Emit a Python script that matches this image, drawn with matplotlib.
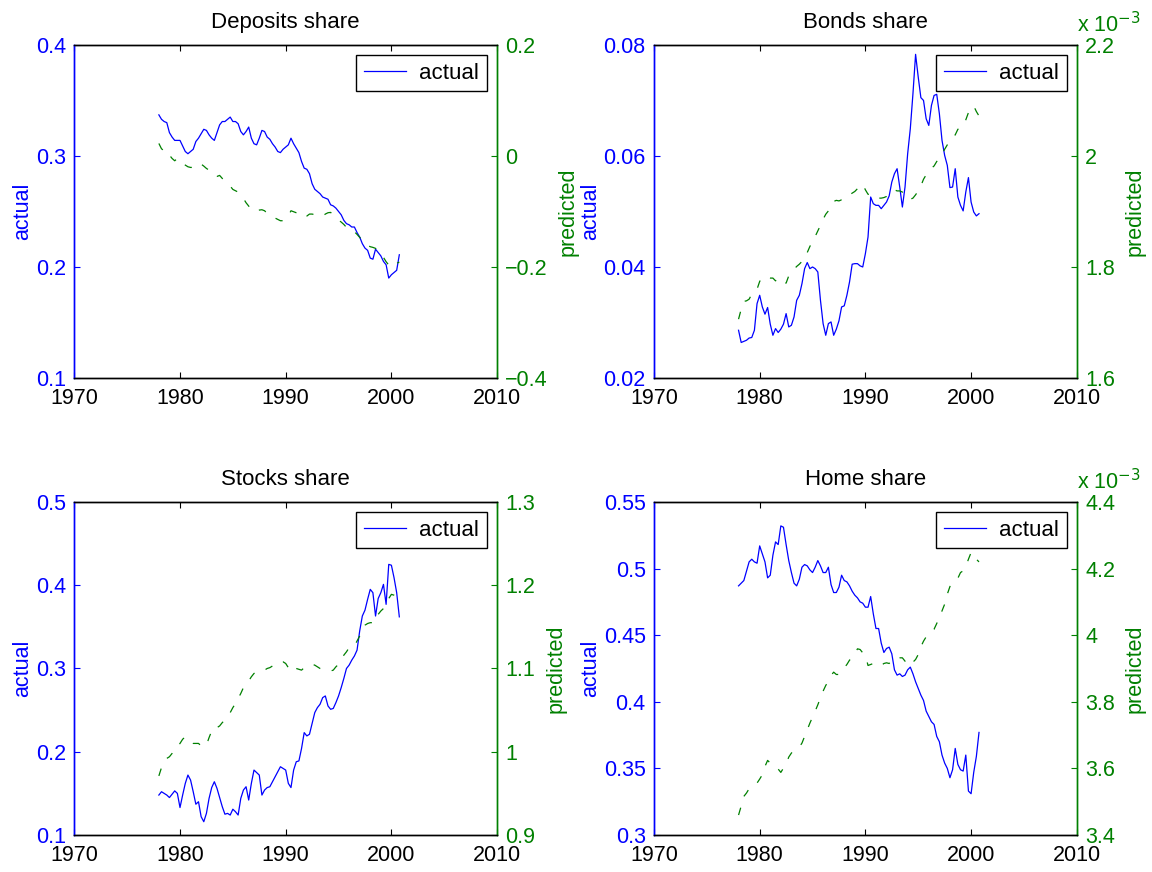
import numpy as np
import matplotlib.pyplot as plt
from matplotlib.ticker import FuncFormatter

plt.rcParams['font.family'] = ['Liberation Sans', 'DejaVu Sans']
plt.rcParams['font.size'] = 15
plt.rcParams['lines.scale_dashes'] = False

BLUE = "#0000ff"
GREEN = "#008000"

quarters = np.arange(1978, 2001, 0.25)  # 1978Q1 .. 2000Q4

deposits_actual = [
    0.337, 0.333, 0.331, 0.330, 0.321, 0.317, 0.314, 0.314, 0.314, 0.309,
    0.304, 0.302, 0.304, 0.306, 0.313, 0.316, 0.320, 0.324, 0.323, 0.319,
    0.316, 0.314, 0.321, 0.328, 0.331, 0.331, 0.333, 0.335, 0.331, 0.331,
    0.329, 0.322, 0.319, 0.322, 0.326, 0.316, 0.311, 0.310, 0.316, 0.323,
    0.322, 0.317, 0.315, 0.311, 0.308, 0.304, 0.303, 0.306, 0.308, 0.310,
    0.316, 0.311, 0.307, 0.303, 0.295, 0.289, 0.288, 0.284, 0.275, 0.270,
    0.268, 0.266, 0.263, 0.262, 0.261, 0.256, 0.255, 0.253, 0.250, 0.247,
    0.242, 0.239, 0.238, 0.236, 0.236, 0.231, 0.227, 0.221, 0.217, 0.215,
    0.208, 0.207, 0.216, 0.213, 0.210, 0.205, 0.202, 0.190, 0.193, 0.195,
    0.197, 0.211]
deposits_pred = [
    0.0225, 0.0129, 0.0093, 0.0105, 0.0015, -0.0045, -0.0087, -0.0045, -0.0075, -0.0135,
    -0.0165, -0.0195, -0.0207, -0.0207, -0.0165, -0.0177, -0.0147, -0.0183, -0.0225, -0.0255,
    -0.0315, -0.0363, -0.0369, -0.0351, -0.0405, -0.0447, -0.0495, -0.0543, -0.0603, -0.0627,
    -0.0651, -0.0705, -0.0765, -0.0843, -0.0903, -0.0975, -0.0993, -0.0987, -0.0975, -0.0969,
    -0.0987, -0.1035, -0.1053, -0.1095, -0.1119, -0.1143, -0.1167, -0.1167, -0.1143, -0.1083,
    -0.0987, -0.1005, -0.1023, -0.1035, -0.1035, -0.1095, -0.1083, -0.1047, -0.1047, -0.1059,
    -0.1071, -0.1083, -0.1083, -0.1047, -0.1023, -0.1017, -0.1065, -0.1107, -0.1155, -0.1191,
    -0.1233, -0.1287, -0.1311, -0.1329, -0.1365, -0.1413, -0.1467, -0.1515, -0.1563, -0.1611,
    -0.1635, -0.1647, -0.1665, -0.1743, -0.1791, -0.1827, -0.1905, -0.1965, -0.2007, -0.1977,
    -0.1935, -0.1911]

bonds_actual = [
    0.0286, 0.0264, 0.0266, 0.0268, 0.0272, 0.0273, 0.0286, 0.0334, 0.0349, 0.0328,
    0.0315, 0.0327, 0.0297, 0.0277, 0.0289, 0.0282, 0.0288, 0.0297, 0.0316, 0.0292,
    0.0295, 0.0310, 0.0340, 0.0349, 0.0370, 0.0397, 0.0408, 0.0397, 0.0400, 0.0397,
    0.0391, 0.0340, 0.0298, 0.0277, 0.0298, 0.0301, 0.0277, 0.0288, 0.0303, 0.0328,
    0.0330, 0.0349, 0.0373, 0.0405, 0.0406, 0.0406, 0.0402, 0.0400, 0.0424, 0.0454,
    0.0526, 0.0514, 0.0511, 0.0511, 0.0505, 0.0511, 0.0517, 0.0528, 0.0553, 0.0568,
    0.0577, 0.0544, 0.0508, 0.0544, 0.0604, 0.0649, 0.0712, 0.0783, 0.0742, 0.0705,
    0.0700, 0.0667, 0.0655, 0.0691, 0.0709, 0.0711, 0.0676, 0.0628, 0.0601, 0.0583,
    0.0543, 0.0544, 0.0577, 0.0526, 0.0511, 0.0501, 0.0535, 0.0561, 0.0517, 0.0499,
    0.0492, 0.0496]
# predicted bond share, in units of 1e-3
bonds_pred_e3 = [
    1.706, 1.724, 1.738, 1.739, 1.742, 1.751, 1.756, 1.760, 1.774, 1.781,
    1.783, 1.781, 1.780, 1.780, 1.775, 1.780, 1.775, 1.772, 1.771, 1.784,
    1.790, 1.796, 1.801, 1.805, 1.810, 1.814, 1.826, 1.837, 1.846, 1.855,
    1.865, 1.875, 1.886, 1.895, 1.901, 1.911, 1.918, 1.920, 1.919, 1.921,
    1.922, 1.925, 1.930, 1.933, 1.936, 1.941, 1.946, 1.949, 1.939, 1.931,
    1.930, 1.931, 1.928, 1.924, 1.924, 1.925, 1.927, 1.931, 1.937, 1.939,
    1.937, 1.937, 1.935, 1.927, 1.923, 1.922, 1.924, 1.930, 1.937, 1.946,
    1.958, 1.966, 1.972, 1.978, 1.982, 1.990, 1.995, 2.003, 2.012, 2.020,
    2.029, 2.033, 2.038, 2.048, 2.051, 2.054, 2.065, 2.078, 2.087, 2.090,
    2.080, 2.072]

stocks_actual = [
    0.148, 0.152, 0.150, 0.148, 0.145, 0.149, 0.153, 0.150, 0.133, 0.148,
    0.162, 0.172, 0.166, 0.152, 0.137, 0.140, 0.122, 0.116, 0.126, 0.144,
    0.157, 0.164, 0.156, 0.145, 0.134, 0.125, 0.126, 0.124, 0.131, 0.128,
    0.124, 0.144, 0.154, 0.158, 0.142, 0.162, 0.178, 0.175, 0.172, 0.148,
    0.154, 0.157, 0.158, 0.164, 0.170, 0.176, 0.182, 0.180, 0.178, 0.162,
    0.157, 0.178, 0.188, 0.189, 0.204, 0.223, 0.219, 0.221, 0.234, 0.247,
    0.253, 0.257, 0.265, 0.267, 0.255, 0.251, 0.252, 0.259, 0.267, 0.277,
    0.288, 0.300, 0.304, 0.310, 0.315, 0.322, 0.345, 0.363, 0.370, 0.383,
    0.395, 0.391, 0.363, 0.384, 0.391, 0.401, 0.377, 0.425, 0.424, 0.409,
    0.391, 0.362]
stocks_pred = [
    0.971, 0.981, 0.987, 0.992, 0.994, 0.998, 1.004, 1.006, 1.010, 1.015,
    1.018, 1.015, 1.013, 1.010, 1.010, 1.010, 1.007, 1.006, 1.008, 1.017,
    1.025, 1.030, 1.029, 1.031, 1.035, 1.038, 1.042, 1.047, 1.053, 1.058,
    1.064, 1.070, 1.077, 1.081, 1.085, 1.090, 1.094, 1.096, 1.096, 1.097,
    1.098, 1.100, 1.101, 1.103, 1.106, 1.107, 1.108, 1.108, 1.106, 1.101,
    1.096, 1.098, 1.100, 1.099, 1.098, 1.101, 1.103, 1.104, 1.105, 1.104,
    1.102, 1.100, 1.099, 1.098, 1.097, 1.097, 1.098, 1.102, 1.105, 1.110,
    1.116, 1.120, 1.125, 1.125, 1.127, 1.133, 1.139, 1.146, 1.152, 1.154,
    1.155, 1.155, 1.156, 1.165, 1.169, 1.172, 1.179, 1.184, 1.189, 1.188,
    1.186, 1.181]

home_actual = [
    0.487, 0.489, 0.491, 0.498, 0.505, 0.507, 0.505, 0.504, 0.517, 0.511,
    0.505, 0.493, 0.495, 0.510, 0.520, 0.518, 0.532, 0.531, 0.518, 0.506,
    0.497, 0.489, 0.487, 0.492, 0.501, 0.503, 0.502, 0.499, 0.497, 0.501,
    0.506, 0.502, 0.497, 0.497, 0.501, 0.488, 0.482, 0.482, 0.486, 0.495,
    0.491, 0.490, 0.487, 0.483, 0.480, 0.478, 0.475, 0.474, 0.471, 0.471,
    0.479, 0.466, 0.455, 0.455, 0.444, 0.437, 0.440, 0.441, 0.436, 0.424,
    0.420, 0.421, 0.419, 0.420, 0.424, 0.426, 0.421, 0.415, 0.410, 0.405,
    0.401, 0.393, 0.389, 0.385, 0.383, 0.374, 0.370, 0.360, 0.354, 0.350,
    0.343, 0.349, 0.365, 0.353, 0.349, 0.348, 0.360, 0.333, 0.331, 0.347,
    0.359, 0.377]
# predicted home share, in units of 1e-3
home_pred_e3 = [
    3.460, 3.487, 3.516, 3.526, 3.539, 3.546, 3.551, 3.556, 3.568, 3.581,
    3.606, 3.624, 3.616, 3.611, 3.608, 3.598, 3.588, 3.601, 3.613, 3.634,
    3.646, 3.654, 3.659, 3.664, 3.676, 3.696, 3.716, 3.736, 3.754, 3.772,
    3.791, 3.812, 3.832, 3.849, 3.862, 3.879, 3.889, 3.882, 3.882, 3.892,
    3.902, 3.912, 3.925, 3.932, 3.942, 3.959, 3.957, 3.947, 3.940, 3.909,
    3.912, 3.915, 3.912, 3.907, 3.909, 3.915, 3.917, 3.915, 3.927, 3.929,
    3.931, 3.932, 3.932, 3.922, 3.909, 3.912, 3.919, 3.927, 3.942, 3.965,
    3.982, 3.995, 4.007, 4.014, 4.018, 4.035, 4.053, 4.073, 4.093, 4.123,
    4.146, 4.156, 4.160, 4.171, 4.188, 4.193, 4.206, 4.228, 4.248, 4.246,
    4.228, 4.220]


def fmt(v, pos):
    return ("%g" % round(v, 6)).replace("-", "\u2212")


def panel(rect, title, actual, pred, lylim, lstep, rylim, rstep, e3=False):
    ax = fig.add_axes(rect)
    ax2 = ax.twinx()
    ax.plot(quarters, actual, color=BLUE, lw=0.9)
    ax2.plot(quarters, pred, color=GREEN, lw=0.9, dashes=[5.5, 8.5])

    ax.set_xlim(1970, 2010)
    ax.set_xticks([1970, 1980, 1990, 2000, 2010])
    ax.set_ylim(*lylim)
    ax.set_yticks(np.arange(lylim[0], lylim[1] + lstep / 2, lstep))
    ax2.set_ylim(*rylim)
    ax2.set_yticks(np.arange(rylim[0], rylim[1] + rstep / 2, rstep))
    ax.yaxis.set_major_formatter(FuncFormatter(fmt))
    ax2.yaxis.set_major_formatter(FuncFormatter(fmt))

    ax.tick_params(axis="x", direction="in", top=True, length=4, pad=7,
                   colors="black", labelsize=15.5)
    ax.tick_params(axis="y", direction="in", length=4, pad=6, colors=BLUE,
                   labelsize=15.5)
    ax2.tick_params(axis="y", direction="in", length=4, pad=6, colors=GREEN,
                    labelsize=15.5)

    for a in (ax, ax2):
        for s in a.spines.values():
            s.set_linewidth(1.0)
        a.spines["top"].set_color("black")
        a.spines["bottom"].set_color("black")
        a.spines["left"].set_color(BLUE)
        a.spines["right"].set_color(GREEN)

    ax.set_ylabel("actual", color=BLUE, labelpad=2, fontsize=15.5)
    ax2.set_ylabel("predicted", color=GREEN, labelpad=7, fontsize=15.5)
    ax.set_title(title, pad=12, fontsize=16)

    leg = ax2.legend(handles=ax.get_lines(), labels=["actual"], loc="upper right",
                     fontsize=16, fancybox=False, framealpha=1, edgecolor="black",
                     borderaxespad=0.45, borderpad=0.35, handlelength=1.9,
                     handletextpad=0.6)
    leg.get_frame().set_linewidth(1.0)

    if e3:
        ax2.annotate("x 10$^{-3}$", xy=(1, 1), xycoords="axes fraction",
                     xytext=(0, 9), textcoords="offset points",
                     color=GREEN, ha="left", va="baseline", fontsize=15.5)
    return ax


fig = plt.figure(figsize=(11.52, 8.72), dpi=100)

W = 0.367
H = 0.382
panel([0.0645, 0.5665, W, H], "Deposits share", deposits_actual, deposits_pred,
      (0.1, 0.4), 0.1, (-0.4, 0.2), 0.2)
panel([0.5677, 0.5665, W, H], "Bonds share", bonds_actual, bonds_pred_e3,
      (0.02, 0.08), 0.02, (1.6, 2.2), 0.2, e3=True)
panel([0.0645, 0.0424, W, H], "Stocks share", stocks_actual, stocks_pred,
      (0.1, 0.5), 0.1, (0.9, 1.3), 0.1)
panel([0.5677, 0.0424, W, H], "Home share", home_actual, home_pred_e3,
      (0.3, 0.55), 0.05, (3.4, 4.4), 0.2, e3=True)

fig.savefig("out.png", dpi=100)
